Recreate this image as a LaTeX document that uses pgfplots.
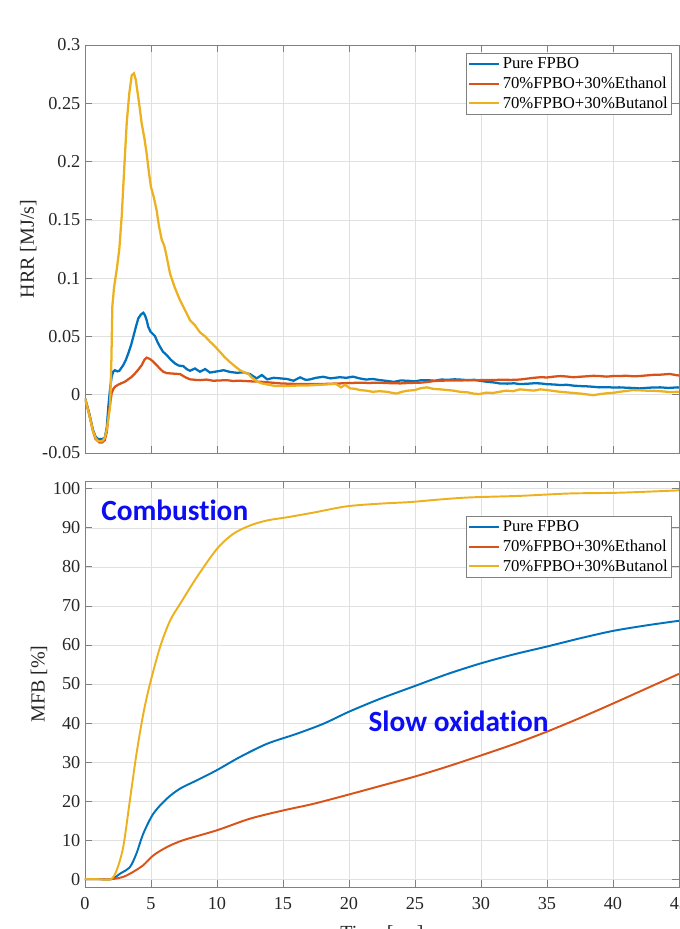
\documentclass[border=0pt]{standalone}
\usepackage{fontspec}
\setmainfont{Liberation Serif}
\newfontfamily\annfont[Ligatures=NoCommon]{Carlito}
\usepackage{pgfplots}
\pgfplotsset{compat=1.18}

\definecolor{mblue}{rgb}{0,0.447,0.741}
\definecolor{morange}{rgb}{0.850,0.325,0.098}
\definecolor{myellow}{rgb}{0.929,0.694,0.125}
\definecolor{axgray}{rgb}{0.5,0.5,0.5}
\definecolor{txtgray}{rgb}{0.15,0.15,0.15}
\definecolor{annblue}{rgb}{0.05,0.05,0.95}

\pgfplotsset{
  panel/.style={
    scale only axis, width=445.5pt,
    xmin=0, xmax=45, xtick={0,5,10,15,20,25,30,35,40,45},
    grid=major, major grid style={color=black!12, line width=0.5pt},
    axis line style={axgray, line width=0.6pt},
    tick style={axgray, line width=0.6pt},
    major tick length=5pt,
    tick align=inside,
    /pgf/number format/assume math mode=true,
    xticklabel={\rmfamily\pgfmathprintnumber[assume math mode=true]{\tick}},
    yticklabel={\rmfamily\pgfmathprintnumber[assume math mode=true]{\tick}},
    ticklabel style={font=\rmfamily\fontsize{13.7}{16}\selectfont, text=txtgray},
    label style={font=\rmfamily\fontsize{15}{18}\selectfont, text=txtgray},
    ylabel shift=-2.6pt,
    scaled y ticks=false,
    legend cell align=left,
    legend style={font=\rmfamily\fontsize{12.5}{14}\selectfont, draw=axgray, fill=white,
      inner xsep=1pt, inner ysep=1.8pt, row sep=1.6pt, text=black,
      nodes={inner xsep=2pt, inner ysep=1.5pt},
      at={(1,1)}, anchor=north east},
    legend image code/.code={\draw[#1, line width=1.5pt] (0pt,0pt) -- (22.5pt,0pt);},
  },
}

\begin{document}
\begin{tikzpicture}
% ---------------- heat release rate ----------------
\begin{axis}[panel,
  name=hrr, at={(0pt,325.5pt)}, anchor=south west, height=306pt,
  ymin=-0.05, ymax=0.3, ytick={-0.05,0,0.05,0.1,0.15,0.2,0.25,0.3},
  yticklabel style={/pgf/number format/fixed, /pgf/number format/precision=2},
  xticklabel=\empty,
  ylabel={HRR [MJ/s]},
  legend style={xshift=-5.25pt, yshift=-6pt},
]
\addplot[mblue, line width=1.7pt] coordinates {
(0,-0.003) (0.3,-0.015) (0.6,-0.030) (0.8,-0.036) (1.0,-0.038) (1.3,-0.038)
(1.5,-0.037) (1.65,-0.028) (1.77,-0.010) (1.9,0.005) (2.02,0.0155) (2.15,0.020)
(2.27,0.021) (2.45,0.020) (2.6,0.0205) (2.9,0.0254) (3.1,0.030) (3.28,0.0355)
(3.5,0.043) (3.66,0.0497) (3.85,0.058) (4.04,0.0655) (4.25,0.069) (4.42,0.0703)
(4.55,0.068) (4.67,0.064) (4.8,0.058) (4.97,0.054) (5.15,0.052) (5.3,0.0503)
(5.5,0.045) (5.68,0.0412) (5.9,0.037) (6.19,0.034) (6.5,0.030) (6.82,0.0268)
(7.1,0.025) (7.45,0.0245) (7.7,0.022) (7.95,0.0205) (8.33,0.0225) (8.71,0.0197)
(9.1,0.022) (9.47,0.019) (10.0,0.020) (10.5,0.021) (11.0,0.0195) (11.5,0.0188)
(12.0,0.0192) (12.5,0.0177) (13.0,0.014) (13.4,0.0169) (13.8,0.0132) (14.3,0.0145)
(14.8,0.014) (15.3,0.0135) (15.8,0.012) (16.3,0.0149) (16.7,0.0128) (17.0,0.013)
(17.5,0.0145) (18.05,0.0154) (18.6,0.014) (19.3,0.015) (19.8,0.0145) (20.3,0.0155)
(20.8,0.014) (21.3,0.013) (21.8,0.0135) (22.35,0.0125) (22.9,0.0118) (23.4,0.011)
(23.9,0.0122) (24.4,0.012) (25.0,0.0115) (25.5,0.0125) (25.9,0.0125) (26.5,0.012)
(27.0,0.013) (27.5,0.0128) (28.0,0.0132) (28.4,0.013) (29.0,0.0125) (29.5,0.0128)
(29.9,0.012) (30.5,0.011) (31.0,0.0105) (31.4,0.0097) (32.0,0.0095) (32.5,0.0098)
(32.95,0.0091) (33.5,0.0094) (34.0,0.0098) (34.5,0.0097) (35.0,0.009) (35.5,0.0088)
(36.0,0.0083) (36.5,0.0085) (37.0,0.0078) (37.5,0.0074) (38.0,0.0072) (38.5,0.0068)
(39.0,0.0063) (39.5,0.0065) (40.0,0.0062) (40.5,0.0063) (41.0,0.006) (41.5,0.0058)
(42.0,0.0054) (42.5,0.0058) (43.0,0.0062) (43.6,0.0063) (44.2,0.0058) (44.9,0.0063)
(45.0,0.0062)
};
\addlegendentry{Pure FPBO}
\addplot[morange, line width=1.7pt] coordinates {
(0,-0.003) (0.3,-0.016) (0.6,-0.031) (0.8,-0.038) (1.1,-0.041) (1.3,-0.041)
(1.5,-0.039) (1.65,-0.032) (1.77,-0.019) (1.9,-0.008) (2.02,0.0012) (2.15,0.005)
(2.27,0.0068) (2.5,0.0085) (2.78,0.010) (3.0,0.011) (3.28,0.0132) (3.5,0.015)
(3.79,0.0183) (4.0,0.021) (4.3,0.0254) (4.5,0.030) (4.67,0.0318) (4.85,0.031)
(5.0,0.030) (5.2,0.028) (5.43,0.0254) (5.7,0.022) (5.93,0.0197) (6.2,0.0185)
(6.44,0.0183) (6.8,0.018) (7.2,0.0177) (7.6,0.015) (7.95,0.0132) (8.3,0.0128)
(8.71,0.0125) (9.2,0.013) (9.7,0.012) (10.2,0.0122) (10.7,0.0125) (11.2,0.0118)
(11.7,0.012) (12.5,0.0115) (13.3,0.0111) (14.0,0.0105) (14.8,0.0097) (15.5,0.0094)
(16.3,0.0091) (17.0,0.0092) (17.8,0.0091) (18.5,0.0094) (19.3,0.0097) (20.0,0.010)
(20.8,0.0103) (21.5,0.0101) (22.3,0.0103) (23.1,0.0099) (23.9,0.0097) (24.6,0.0101)
(25.4,0.0103) (26.0,0.011) (26.5,0.0118) (27.0,0.012) (27.5,0.0122) (28.2,0.0121)
(28.9,0.0124) (29.9,0.0125) (30.8,0.0126) (31.5,0.0128) (32.3,0.0127) (32.95,0.013)
(33.5,0.0138) (34.0,0.0145) (34.5,0.015) (35.0,0.0148) (35.5,0.0155) (36.0,0.016)
(36.5,0.0156) (37.0,0.015) (37.5,0.0154) (38.0,0.0158) (38.5,0.0162) (39.0,0.016)
(39.5,0.0155) (40.0,0.016) (40.5,0.016) (41.0,0.0163) (41.5,0.0158) (42.0,0.016)
(42.5,0.0165) (43.0,0.017) (43.6,0.0172) (44.3,0.0178) (44.8,0.0168) (45.0,0.0165)
};
\addlegendentry{70\%FPBO+30\%Ethanol}
\addplot[myellow, line width=1.7pt] coordinates {
(0,-0.003) (0.3,-0.016) (0.6,-0.031) (0.8,-0.037) (1.0,-0.040) (1.3,-0.040)
(1.5,-0.037) (1.65,-0.030) (1.8,-0.018) (1.9,-0.010) (2.0,0.030) (2.07,0.0755)
(2.2,0.092) (2.4,0.107) (2.6,0.125) (2.78,0.153) (3.0,0.200) (3.16,0.233)
(3.35,0.258) (3.54,0.274) (3.71,0.2757) (3.85,0.270) (3.95,0.262) (4.1,0.250)
(4.29,0.233) (4.5,0.220) (4.67,0.207) (4.85,0.190) (5.0,0.178) (5.2,0.170)
(5.43,0.158) (5.6,0.145) (5.81,0.133) (6.0,0.128) (6.14,0.121) (6.3,0.112)
(6.44,0.104) (6.8,0.092) (7.2,0.081) (7.6,0.072) (7.95,0.064) (8.3,0.060)
(8.71,0.0535) (9.1,0.050) (9.47,0.0455) (9.8,0.042) (10.2,0.037) (10.6,0.032)
(10.98,0.028) (11.4,0.024) (11.74,0.021) (12.1,0.019) (12.37,0.018) (12.6,0.015)
(12.88,0.0126) (13.1,0.011) (13.4,0.0097) (13.9,0.0085) (14.5,0.0074) (15.3,0.0074)
(16.0,0.0078) (17.0,0.008) (17.8,0.0085) (18.6,0.009) (19.0,0.0093) (19.4,0.0063)
(19.7,0.0085) (20.1,0.0054) (20.5,0.005) (20.8,0.004) (21.3,0.0035) (21.8,0.0025)
(22.3,0.003) (22.9,0.0025) (23.3,0.0015) (23.6,0.001) (24.0,0.0025) (24.4,0.0034)
(25.0,0.004) (25.4,0.0055) (25.9,0.0063) (26.4,0.005) (26.9,0.0046) (27.5,0.004)
(27.9,0.0035) (28.4,0.0025) (29.0,0.002) (29.5,0.0008) (29.9,0.0006) (30.4,0.0018)
(30.9,0.0015) (31.4,0.0025) (31.9,0.0035) (32.4,0.003) (32.95,0.0046) (33.5,0.004)
(34.0,0.0035) (34.5,0.0046) (35.0,0.004) (35.5,0.0032) (36.0,0.0025) (36.5,0.002)
(37.0,0.0015) (37.5,0.001) (38.0,0.0003) (38.5,-0.0004) (39.0,0.0005) (39.5,0.0012)
(40.0,0.0016) (40.5,0.0025) (41.0,0.0032) (41.5,0.004) (42.0,0.0038) (42.5,0.0035)
(43.05,0.0034) (43.6,0.003) (44.3,0.0023) (44.9,0.0025) (45,0.0025)
};
\addlegendentry{70\%FPBO+30\%Butanol}
\end{axis}

% ---------------- mass fraction burned ----------------
\begin{axis}[panel,
  name=mfb, at={(0pt,0pt)}, anchor=south west, height=304.5pt,
  ymin=-2, ymax=102, ytick={0,10,20,30,40,50,60,70,80,90,100},
  xticklabel shift=4pt,
  xlabel={Time [ms]}, ylabel={MFB [\%]},
  xlabel style={yshift=-5.5pt},
  legend style={xshift=-5.25pt, yshift=-26.25pt},
]
\addplot[mblue, line width=1.45pt, smooth, tension=0.5] coordinates {
(0,0) (1.0,0) (2.0,0) (2.65,1.4) (3.4,3.1) (3.9,6.6) (4.42,11.7) (5.18,16.8)
(6.19,20.6) (7.2,23.2) (8.46,25.3) (9.97,27.9) (11.74,31.3) (13.8,34.7)
(16.0,37.2) (18.05,39.8) (20.0,42.9) (22.35,46.2) (25.0,49.5) (27.5,52.6)
(30.0,55.3) (32.5,57.6) (35.0,59.6) (37.5,61.7) (40.0,63.6) (42.5,65.0) (45,66.2)
};
\addlegendentry{Pure FPBO}
\addplot[morange, line width=1.45pt, smooth, tension=0.5] coordinates {
(0,0) (1.0,0) (2.0,0) (2.9,0.6) (3.66,1.9) (4.42,3.6) (5.18,6.1) (6.19,8.2)
(7.45,10.0) (9.97,12.5) (12.5,15.5) (15.0,17.6) (17.3,19.3) (20.0,21.7)
(22.5,24.0) (25.0,26.3) (27.5,28.9) (30.0,31.7) (32.5,34.6) (35.0,37.8)
(37.5,41.3) (40.0,45.0) (42.5,48.8) (45,52.6)
};
\addlegendentry{70\%FPBO+30\%Ethanol}
\addplot[myellow, line width=1.45pt, smooth, tension=0.5] coordinates {
(0,0) (1.0,0) (1.95,0) (2.4,2.3) (2.9,8.3) (3.4,20.2) (3.9,32.1) (4.42,42.4)
(4.92,50.0) (5.68,59.4) (6.44,66.2) (7.2,70.5) (8.46,77.3) (9.97,84.5)
(11.2,88.4) (12.5,90.6) (13.8,91.9) (15.3,92.7) (17.3,93.9) (19.8,95.5)
(22.35,96.2) (24.6,96.6) (27.0,97.3) (29.2,97.8) (33.0,98.2) (36.7,98.8)
(40.5,99.0) (45,99.6)
};
\addlegendentry{70\%FPBO+30\%Butanol}
\node[font=\annfont\bfseries\fontsize{22}{26}\selectfont, text=annblue]
  at (axis cs:6.8,94.4) {Combustion};
\node[font=\annfont\bfseries\fontsize{22}{26}\selectfont, text=annblue]
  at (axis cs:28.3,40.4) {Slow oxidation};
\end{axis}

\pgfresetboundingbox
\path[use as bounding box] (-63.75pt,-31.5pt) rectangle (445.5pt,665.25pt);
\end{tikzpicture}
\end{document}
